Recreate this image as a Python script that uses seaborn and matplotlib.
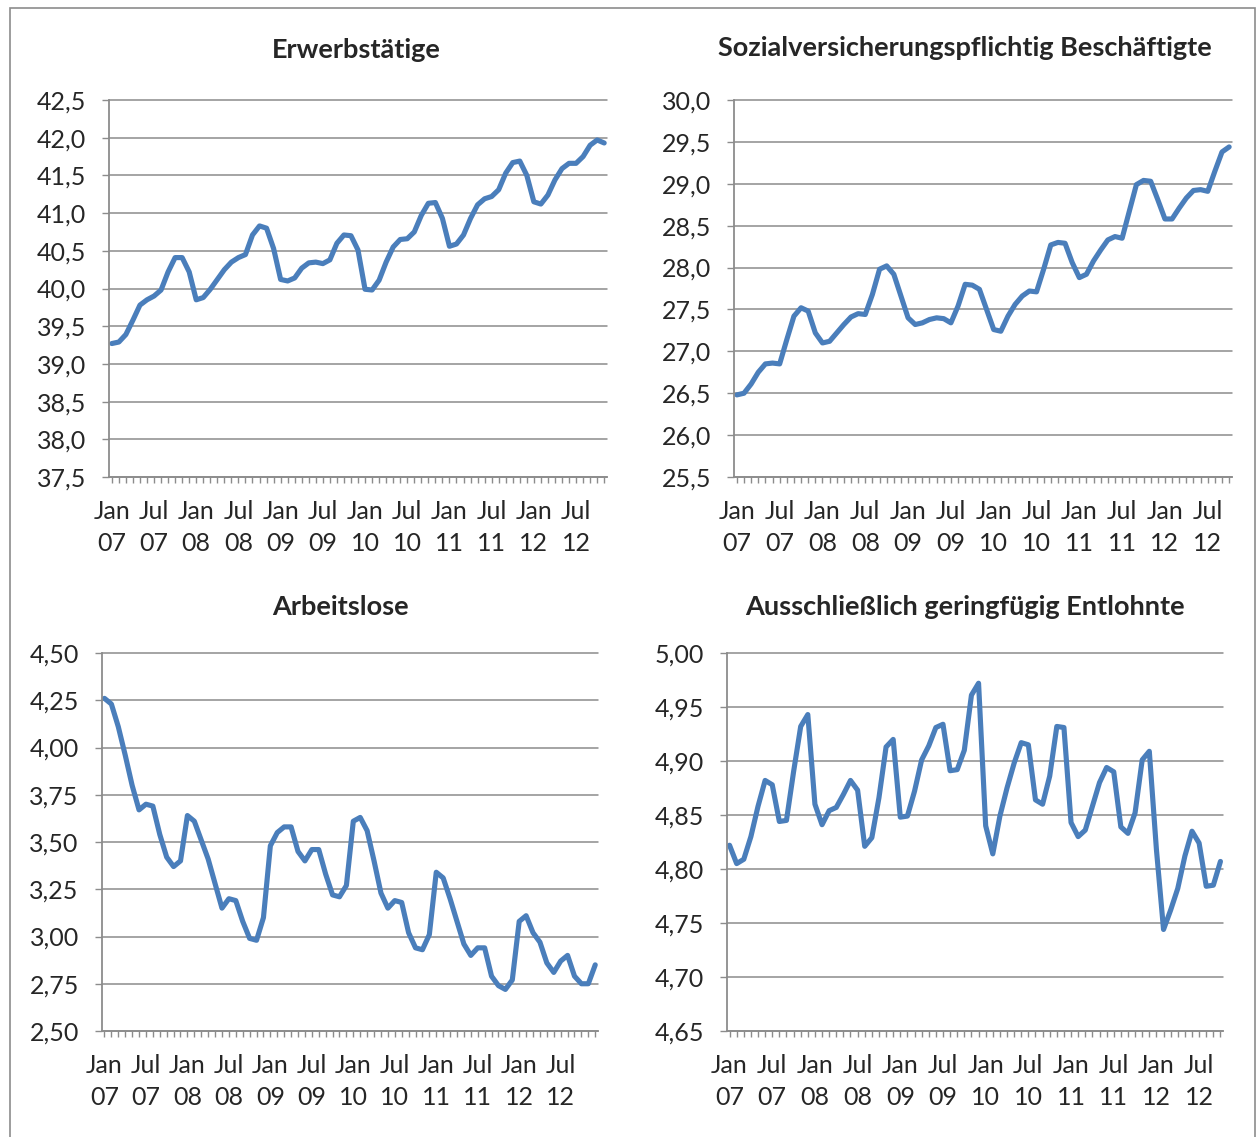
import matplotlib
matplotlib.use("Agg")
import matplotlib.pyplot as plt
import seaborn as sns
import pandas as pd
from matplotlib.patches import Rectangle
from matplotlib.ticker import FuncFormatter

# Monatswerte ab Jan 2007 (Mio. Personen)
erwerbstaetige = [
    39.27, 39.29, 39.39, 39.58, 39.78, 39.85, 39.90, 39.98, 40.22, 40.41, 40.41, 40.22,
    39.85, 39.88, 39.99, 40.12, 40.25, 40.35, 40.41, 40.45, 40.71, 40.83, 40.80, 40.53,
    40.12, 40.10, 40.14, 40.27, 40.34, 40.35, 40.33, 40.38, 40.60, 40.71, 40.70, 40.51,
    39.99, 39.98, 40.11, 40.35, 40.55, 40.65, 40.66, 40.75, 40.97, 41.13, 41.14, 40.93,
    40.56, 40.59, 40.71, 40.93, 41.11, 41.19, 41.22, 41.31, 41.53, 41.67, 41.69, 41.50,
    41.15, 41.12, 41.24, 41.44, 41.59, 41.66, 41.66, 41.75, 41.90, 41.97, 41.93,
]
sv_beschaeftigte = [
    26.48, 26.50, 26.61, 26.75, 26.85, 26.86, 26.85, 27.14, 27.42, 27.52, 27.48, 27.22,
    27.10, 27.12, 27.22, 27.32, 27.41, 27.45, 27.44, 27.68, 27.98, 28.02, 27.92, 27.66,
    27.40, 27.32, 27.34, 27.38, 27.40, 27.39, 27.34, 27.54, 27.80, 27.79, 27.74, 27.50,
    27.26, 27.24, 27.42, 27.56, 27.66, 27.72, 27.71, 27.98, 28.27, 28.30, 28.29, 28.06,
    27.88, 27.92, 28.08, 28.21, 28.33, 28.37, 28.35, 28.67, 28.99, 29.04, 29.03, 28.81,
    28.58, 28.58, 28.71, 28.83, 28.92, 28.93, 28.91, 29.15, 29.38, 29.44,
]
arbeitslose = [
    4.26, 4.23, 4.11, 3.96, 3.80, 3.67, 3.70, 3.69, 3.54, 3.42, 3.37, 3.40,
    3.64, 3.61, 3.51, 3.41, 3.28, 3.15, 3.20, 3.19, 3.08, 2.99, 2.98, 3.10,
    3.48, 3.55, 3.58, 3.58, 3.45, 3.40, 3.46, 3.46, 3.33, 3.22, 3.21, 3.27,
    3.61, 3.63, 3.56, 3.40, 3.23, 3.15, 3.19, 3.18, 3.02, 2.94, 2.93, 3.01,
    3.34, 3.31, 3.20, 3.08, 2.96, 2.90, 2.94, 2.94, 2.79, 2.74, 2.72, 2.77,
    3.08, 3.11, 3.02, 2.97, 2.86, 2.81, 2.87, 2.90, 2.79, 2.75, 2.75, 2.85,
]
geringfuegig = [
    4.822, 4.805, 4.809, 4.830, 4.858, 4.882, 4.878, 4.844, 4.845, 4.890, 4.932, 4.943,
    4.860, 4.841, 4.854, 4.857, 4.869, 4.882, 4.873, 4.821, 4.829, 4.866, 4.913, 4.920,
    4.848, 4.849, 4.872, 4.901, 4.914, 4.931, 4.934, 4.891, 4.892, 4.910, 4.961, 4.972,
    4.840, 4.814, 4.849, 4.875, 4.898, 4.917, 4.915, 4.864, 4.860, 4.886, 4.932, 4.931,
    4.843, 4.830, 4.836, 4.858, 4.880, 4.894, 4.890, 4.839, 4.833, 4.852, 4.901, 4.909,
    4.818, 4.744, 4.762, 4.782, 4.812, 4.835, 4.824, 4.784, 4.785, 4.807,
]
x_labels = ["Jan\n07", "Jul\n07", "Jan\n08", "Jul\n08", "Jan\n09", "Jul\n09",
            "Jan\n10", "Jul\n10", "Jan\n11", "Jul\n11", "Jan\n12", "Jul\n12"]
titles = ["Erwerbstätige", "Sozialversicherungspflichtig Beschäftigte",
          "Arbeitslose", "Ausschließlich geringfügig Entlohnte"]

W, H = 1257, 1137
LINE = "#4A7EBB"
GRAY = "#8C8C8C"

sns.set_style("white")
plt.rcParams["font.family"] = ["Lato", "DejaVu Sans"]

fig = plt.figure(figsize=(W / 100, H / 100), dpi=100)
fig.patch.set_facecolor("white")
fig.patches.append(Rectangle((10 / W, -0.01), 1245 / W, 1 - 8 / H + 0.01,
                             transform=fig.transFigure, fill=False,
                             edgecolor=GRAY, lw=1.2))


def panel(rect_px, values, ymin, ymax, step, decimals, title, title_xy):
    left, top, right, bottom = rect_px
    ax = fig.add_axes([left / W, 1 - bottom / H, (right - left) / W, (bottom - top) / H])
    df = pd.DataFrame({"monat": range(len(values)), "wert": values})
    sns.lineplot(data=df, x="monat", y="wert", ax=ax, color=LINE, linewidth=3.7,
                 solid_joinstyle="round", solid_capstyle="round")
    n = len(values)
    ax.set_xlim(-0.4, n - 1 + 0.4)
    ax.set_ylim(ymin, ymax)
    yt = [ymin + i * step for i in range(int(round((ymax - ymin) / step)) + 1)]
    ax.set_yticks(yt)
    ax.yaxis.set_major_formatter(FuncFormatter(
        lambda v, p: f"{v:.{decimals}f}".replace(".", ",")))
    ax.set_xticks(range(0, 67, 6))
    ax.set_xticklabels(x_labels)
    ax.set_xticks(range(n), minor=True)
    ax.set_xlabel("")
    ax.set_ylabel("")
    ax.yaxis.grid(True, color=GRAY, lw=1.1)
    ax.xaxis.grid(False)
    for gl in ax.get_ygridlines():
        gl.set_clip_on(False)
    for s in ["top", "right"]:
        ax.spines[s].set_visible(False)
    for s in ["left", "bottom"]:
        ax.spines[s].set_color(GRAY)
        ax.spines[s].set_linewidth(1.3)
    ax.tick_params(axis="y", direction="out", length=5, width=1, color=GRAY,
                   labelsize=18, pad=11.5, left=True)
    ax.tick_params(axis="x", which="both", direction="out", length=4.5, width=1,
                   color=GRAY, bottom=True)
    ax.tick_params(axis="x", which="major", labelsize=18, pad=12)
    for lbl in ax.get_xticklabels():
        lbl.set_linespacing(1.5)
    fig.text(title_xy[0] / W, 1 - title_xy[1] / H, title, ha="center", va="center",
             fontsize=19.5, fontweight="bold")
    return ax


panel((109, 100, 607, 477), erwerbstaetige, 37.5, 42.5, 0.5, 1, titles[0], (356, 50))
panel((734, 100, 1232, 477), sv_beschaeftigte, 25.5, 30.0, 0.5, 1, titles[1], (965, 48))
panel((101.7, 653, 598, 1031), arbeitslose, 2.5, 4.5, 0.25, 2, titles[2], (340, 607))
panel((726.7, 653, 1223.3, 1031), geringfuegig, 4.65, 5.0, 0.05, 2, titles[3], (965, 607))

fig.savefig("out.png", dpi=100, facecolor="white")
